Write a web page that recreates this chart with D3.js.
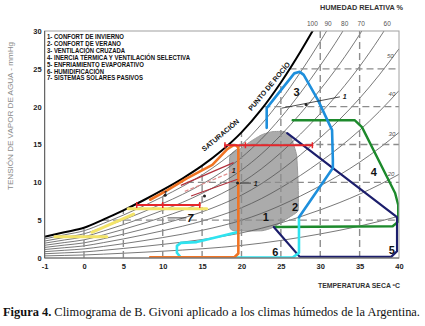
<!DOCTYPE html>
<html><head><meta charset="utf-8">
<script src="https://cdn.jsdelivr.net/npm/d3@7"></script>
<style>body{margin:0;background:#fff}svg{display:block}</style>
</head><body><svg id="c" width="425" height="326"></svg>
<script>
// ---- data ----
const satT = [-5,-2.5,0,2.5,5,7.5,10,12.5,15,17.5,20,22.5,25,27.5,30,32.5,35,37.5,40];
const satP = [2.8,3.4,4.0,5.1,6.3,7.6,9.0,10.5,12.2,14.2,16.6,19.6,23.2,27.3,31.8,36.7,42.2,48.4,55.3];
const rhLevels = [0.9,0.8,0.7,0.6,0.5,0.4,0.3,0.2,0.1];
const xTickValues = [-5,0,5,10,15,20,25,30,35,40];
const xTickLabels = ["-1","0","5","10","15","20","25","30","35","40"];
const yTickValues = [0,5,10,15,20,25,30];
const xGridValues = [0,5,10,15,20,25,30,35];
const yGridValues = [5,10,15,20,25];
const rhTopLabels = [["100",29.0],["90",31.0],["80",33.1],["70",35.2],["60",38.5]];
const rhSideLabels = [["50",0.5,38.9],["40",0.4,39.1],["30",0.3,39.1],["20",0.2,39.0]];
const legendLines = ["1- CONFORT DE INVIERNO","2- CONFORT DE VERANO","3- VENTILACIÓN CRUZADA",
  "4- INERCIA TÉRMICA Y VENTILACIÓN SELECTIVA","5- ENFRIAMIENTO EVAPORATIVO","6- HUMIDIFICACIÓN",
  "7- SISTEMAS SOLARES PASIVOS"];
const legendWidths = [77,74,78,143,97,57,96];

const zoneGray = [[18.5,13.3],[19.8,14.4],[21.3,15.5],[22.6,16.3],[23.9,16.7],[25.5,16.7],[26.3,15.9],
  [27.0,13.6],[27.2,9.6],[27.2,6.3],[26.4,5.6],[23.9,4.0],[22.6,3.6],[19.3,3.6],[18.5,4.2]];
const zoneBlue = [[23.2,17.2],[23.2,19.8],[26.7,24.4],[27.4,24.6],[27.9,24.2],[29.7,20.9],[31.5,16.9],
  [31.6,13.0],[31.6,11.9],[27.3,5.4]];
const zoneGreen = [[26.5,18.2],[34.4,18.2],[35.3,17.3],[39.5,8.6],[39.9,7.0],[39.9,4.8],[39.2,4.2],[24.3,4.1]];
const zoneNavy = [[25.8,16.5],[39.75,5.4],[39.75,0.9],[39.0,0.15],[27.4,0.15],[24.1,4.1]];
const zoneCyan = [[19.4,3.4],[16.3,2.6],[14.3,2.1],[12.3,2.0],[11.8,1.6],[11.8,0.7],[12.3,0.05],
  [26.5,0.05],[27.3,0.7],[27.3,5.4]];
const zoneOrange = [[8.4,7.7],[10.5,8.9],[13.0,10.5],[16.3,12.3],[18.2,14.4],[19.0,14.9],[19.3,14.9],
  [19.6,14.6],[19.6,0.6],[19.1,0.1],[8.4,0.1]];
const redLines = [[[17.9,14.9],[29.0,14.9]],[[6.7,7.0],[14.7,7.0]]];
const redTicks = [[17.9,14.9],[20.5,14.9],[29.0,14.9],[6.7,7.0],[10.0,7.0],[14.7,7.0]];
const yellowLines = [[[5.6,6.5],[15.6,6.5]],[[-3.7,2.8],[2.9,2.8]],[[1.0,3.4],[6.3,5.8]]];
const pinkLines = [[[12.3,9.6],[19.0,12.6]],[[12.8,8.8],[19.3,11.6]],[[13.6,8.2],[19.5,10.4]]];
const annotLines = [[[25.1,19.8],[32.5,21.3]],[[19.8,9.9],[21.2,9.9]],[[10.6,5.3],[13.0,5.3]]];
const annotDots = [[28.2,20.3],[19.5,9.9],[15.3,8.2],[10.3,8.3]];
const annotLabels = [["1",33.1,21.3],["1",21.8,9.9],["1",10.3,8.5],["1",19.0,11.6]];
const zoneLabels = [["1",23.1,5.4],["2",26.8,6.7],["3",27.0,21.9],["4",36.8,11.4],["5",39.1,1.1],["6",24.3,0.8]];

// ---- drawing ----
const svg = d3.select("#c");
svg.append("rect").attr("width",425).attr("height",326).attr("fill","#ffffff");
const x = d3.scaleLinear().domain([-5,40]).range([44.6,399]);
const y = d3.scaleLinear().domain([0,30]).range([258,31]);
const satAt = d3.scaleLinear().domain(satT).range(satP);
const tAtSat = d3.scaleLinear().domain(satP).range(satT);
const line = d3.line().x(d=>x(d[0])).y(d=>y(d[1]));
const smooth = d3.line().x(d=>x(d[0])).y(d=>y(d[1])).curve(d3.curveMonotoneX);

svg.append("clipPath").attr("id","plot").append("rect")
  .attr("x",x(-5)).attr("y",y(30)).attr("width",x(40)-x(-5)).attr("height",y(0)-y(30));
const g = svg.append("g").attr("clip-path","url(#plot)");

// gray zone fill
g.append("path").datum(zoneGray).attr("d",line.curve(d3.curveCardinalClosed.tension(0.6)))
  .attr("fill","#ababab").attr("stroke","#999").attr("stroke-width",1);
line.curve(d3.curveLinear);

// RH curves
rhLevels.forEach(rh=>{
  g.append("path").datum(satT.map((t,i)=>[t,satP[i]*rh])).attr("d",smooth)
    .attr("fill","none").attr("stroke","#555").attr("stroke-width",0.8);
});
// grid
xGridValues.forEach(t=>{
  g.append("line").attr("x1",x(t)).attr("x2",x(t)).attr("y1",y(0)).attr("y2",y(Math.min(satAt(t),30)))
   .attr("stroke","#8c8c8c").attr("stroke-width",1.4).attr("stroke-dasharray","7,4");
});
yGridValues.forEach(p=>{
  g.append("line").attr("x1",x(tAtSat(p))).attr("x2",x(40)).attr("y1",y(p)).attr("y2",y(p))
   .attr("stroke","#8c8c8c").attr("stroke-width",1.4).attr("stroke-dasharray","7,4");
});
// saturation curve
g.append("path").datum(satT.map((t,i)=>[t,satP[i]])).attr("d",smooth)
  .attr("fill","none").attr("stroke","#000").attr("stroke-width",2);

// zones
function zone(data,color,w){
  g.append("path").datum(data).attr("d",line).attr("fill","none").attr("stroke",color)
   .attr("stroke-width",w).attr("stroke-linejoin","round").attr("stroke-linecap","round");
}
zone(zoneGreen,"#1d8a2c",2.4);
zone(zoneNavy,"#1c1e6c",2.2);
zone(zoneCyan,"#2fe3ef",2.6);
zone(zoneBlue,"#1e8fdc",2.6);
zone(zoneOrange,"#f07424",2.6);
yellowLines.forEach(l=>zone(l,"#f3e46a",3));
pinkLines.forEach((l,i)=>g.append("path").datum(l).attr("d",line).attr("fill","none")
  .attr("stroke",i==1?"#e09090":"#b0303c").attr("stroke-width",1.2)
  .attr("stroke-dasharray",i==1?"4,2":null));
redLines.forEach(l=>zone(l,"#e5262b",2));
redTicks.forEach(d=>g.append("line").attr("x1",x(d[0])).attr("x2",x(d[0]))
  .attr("y1",y(d[1])-3).attr("y2",y(d[1])+3).attr("stroke","#e5262b").attr("stroke-width",1.5));
annotLines.forEach(l=>g.append("path").datum(l).attr("d",line).attr("stroke","#222").attr("stroke-width",0.8));
annotDots.forEach(d=>g.append("circle").attr("cx",x(d[0])).attr("cy",y(d[1])).attr("r",1.5).attr("fill","#222"));
annotLabels.forEach(d=>g.append("text").attr("x",x(d[1])).attr("y",y(d[2])).text(d[0])
  .attr("font-family","Liberation Sans, Arial").attr("font-weight","bold").attr("font-style","italic")
  .attr("font-size",7).attr("fill","#222").attr("text-anchor","middle").attr("dominant-baseline","central"));

// frame
svg.append("rect").attr("x",x(-5)).attr("y",y(30)).attr("width",x(40)-x(-5)).attr("height",y(0)-y(30))
  .attr("fill","none").attr("stroke","#a0a0a0").attr("stroke-width",1);
svg.append("line").attr("x1",x(-5)).attr("x2",x(-5)).attr("y1",y(30)).attr("y2",y(0)).attr("stroke","#666").attr("stroke-width",1.2);
svg.append("line").attr("x1",x(-5)).attr("x2",x(40)).attr("y1",y(0)).attr("y2",y(0)).attr("stroke","#666").attr("stroke-width",1.2);

// axes
const font = "Liberation Sans, Arial, sans-serif";
const xa = svg.append("g").attr("transform",`translate(0,${y(0)})`)
  .call(d3.axisBottom(x).tickValues(xTickValues).tickSize(0).tickPadding(6)
    .tickFormat((d,i)=>xTickLabels[i]));
const ya = svg.append("g").attr("transform",`translate(${x(-5)},0)`)
  .call(d3.axisLeft(y).tickValues(yTickValues).tickSize(0).tickPadding(3));
[xa,ya].forEach(a=>{a.select(".domain").remove();
  a.selectAll("text").attr("font-family",font).attr("font-weight","bold").attr("font-size",7.5).attr("fill","#222");});

// zone labels
zoneLabels.forEach(d=>svg.append("text").attr("x",x(d[1])).attr("y",y(d[2])).text(d[0])
  .attr("font-family",font).attr("font-weight","bold").attr("font-size",11).attr("fill","#111")
  .attr("text-anchor","middle").attr("dominant-baseline","central"));
svg.append("text").attr("x",x(13.5)).attr("y",y(5.3)).text("7")
  .attr("font-family",font).attr("font-weight","bold").attr("font-style","italic").attr("font-size",11)
  .attr("fill","#111").attr("text-anchor","middle").attr("dominant-baseline","central");

// RH labels
rhTopLabels.forEach(d=>svg.append("text").attr("x",x(d[1])).attr("y",y(30)-5).text(d[0])
  .attr("font-family",font).attr("font-size",6.5).attr("fill","#555").attr("text-anchor","middle"));
rhSideLabels.forEach(d=>svg.append("text").attr("x",x(d[2])).attr("y",y(satAt(d[2])*d[1])-2).text(d[0])
  .attr("font-family",font).attr("font-style","italic").attr("font-size",6).attr("fill","#555").attr("text-anchor","middle"));

// curve labels
svg.append("text").attr("transform",`translate(222,137) rotate(-40)`).text("SATURACIÓN")
  .attr("font-family",font).attr("font-weight","bold").attr("font-size",7).attr("fill","#111").attr("text-anchor","middle");
svg.append("text").attr("transform",`translate(271,88) rotate(-50)`).text("PUNTO DE ROCÍO")
  .attr("font-family",font).attr("font-weight","bold").attr("font-size",7).attr("fill","#111").attr("text-anchor","middle");

// legend
legendLines.forEach((s,i)=>svg.append("text").attr("x",47).attr("y",39+i*6.9).text(s)
  .attr("font-family",font).attr("font-weight","bold").attr("font-size",6.8).attr("fill","#111")
  .attr("textLength",legendWidths[i]).attr("lengthAdjust","spacingAndGlyphs"));

// titles
svg.append("text").attr("transform","translate(13,116) rotate(-90)").text("TENSIÓN DE VAPOR DE AGUA - mmHg")
  .attr("font-family",font).attr("font-size",7.5).attr("fill","#8a8a8a").attr("text-anchor","middle")
  .attr("textLength",148).attr("lengthAdjust","spacingAndGlyphs");
svg.append("text").attr("x",320).attr("y",10).text("HUMEDAD RELATIVA  %")
  .attr("font-family",font).attr("font-weight","bold").attr("font-size",7).attr("fill","#333")
  .attr("textLength",83).attr("lengthAdjust","spacingAndGlyphs");
svg.append("text").attr("x",318).attr("y",288).text("TEMPERATURA SECA ºC")
  .attr("font-family",font).attr("font-weight","bold").attr("font-size",6.8).attr("fill","#333")
  .attr("textLength",82).attr("lengthAdjust","spacingAndGlyphs");

// caption
const cap = svg.append("text").attr("x",3).attr("y",316).attr("font-family","Liberation Serif, Times New Roman, serif")
  .attr("font-size",12.5).attr("fill","#111").attr("textLength",417).attr("lengthAdjust","spacingAndGlyphs");
cap.append("tspan").attr("font-weight","bold").text("Figura 4.");
cap.append("tspan").text(" Climograma de B. Givoni aplicado a los climas húmedos de la Argentina.");
</script></body></html>
